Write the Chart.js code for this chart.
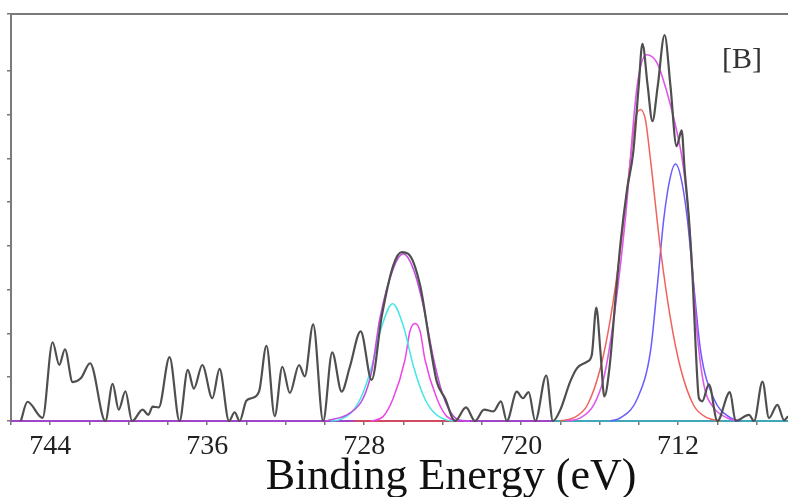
<!DOCTYPE html>
<html>
<head>
<meta charset="utf-8">
<script src="https://cdn.jsdelivr.net/npm/chart.js@4.4.1/dist/chart.umd.min.js"></script>
<style>
  html, body { margin: 0; padding: 0; background: #fff; }
  #wrap { width: 788px; height: 497px; }
</style>
</head>
<body>
<div id="wrap"><canvas id="xps" width="788" height="497"></canvas></div>
<script>
"use strict";

// ----------------------------
// Data (binding energy in eV, intensity in arb. units)
// ----------------------------
const measuredEv = [745.50, 745.16, 744.39, 743.88, 743.54, 743.25, 742.86, 742.43, 741.97, 741.19,
  740.82, 740.51, 740.17, 739.83, 739.29, 739.00, 738.78, 738.47, 737.92, 737.41,
  736.99, 736.68, 736.25, 735.74, 735.37, 734.89, 734.60, 734.35, 734.01, 733.75,
  733.36, 732.98, 732.56, 732.17, 731.79, 731.32, 731.03, 730.60, 730.09, 729.63,
  729.15, 728.73, 728.18, 727.62, 727.11, 726.52, 726.09, 725.75, 725.15, 724.64,
  724.30, 723.88, 723.37, 722.81, 722.35, 721.89, 721.41, 721.03, 720.73, 720.22,
  719.91, 719.62, 719.28, 718.72, 718.38, 718.00, 717.50, 717.15, 716.65, 716.40,
  716.17, 715.96, 715.76, 715.50, 715.19, 714.94, 714.60, 714.29, 714.01, 713.82,
  713.55, 713.31, 713.04, 712.69, 712.39, 712.08, 711.82, 711.67, 711.45, 711.26,
  711.11, 710.94, 710.77, 710.43, 710.00, 709.36, 709.07, 708.39, 708.13, 707.70,
  707.37, 706.94, 706.60, 706.40];
const measuredCounts = [0, 44, 7, 180, 128, 164, 89, 98, 132, 0,
  85, 26, 68, 0, 26, 14, 33, 31, 146, 0,
  117, 74, 128, 52, 119, 0, 20, 0, 46, 52,
  67, 172, 11, 124, 64, 128, 102, 221, 0, 157,
  67, 124, 205, 94, 238, 355, 386, 382, 310, 173,
  90, 52, 0, 31, 0, 26, 22, 45, 0, 67,
  52, 66, 0, 104, 0, 26, 90, 121, 135, 151,
  259, 159, 56, 121, 280, 405, 530, 613, 765, 862,
  765, 685, 765, 882, 765, 628, 664, 575, 462, 325,
  173, 52, 45, 84, 0, 66, 0, 14, 0, 90,
  7, 37, 2, 11];

// Fe 2p3/2 components
const redEv = [718.01, 717.34, 716.63, 715.96, 715.45, 714.94, 714.43, 714.18, 713.92,
  713.67, 713.41, 712.90, 712.39, 711.88, 711.21, 710.50, 709.83];
const redCounts = [0, 7, 36, 121, 234, 393, 598, 689, 712, 689, 598, 393, 234, 121, 36, 7, 0];

const blueEv = [715.45, 714.94, 714.07, 713.41, 713.06, 712.73, 712.39, 712.13,
  711.87, 711.53, 711.20, 710.85, 710.19, 709.32, 708.81];
const blueCounts = [0, 7, 52, 159, 309, 462, 559, 587, 559, 462, 309, 159, 52, 7, 0];

const envMainEv = [717.66, 716.98, 716.30, 715.79, 715.28, 714.69, 714.09, 713.61, 713.07,
  712.56, 712.13, 711.79, 711.54, 711.45, 711.02, 710.69, 710.18, 709.49, 708.98];
const envMainCounts = [0, 7, 37, 98, 234, 462, 765, 837, 818, 750, 674, 598, 507, 462, 196, 83, 30, 7, 0];

// Fe 2p1/2 components
const cyanEv = [729.72, 729.31, 728.62, 728.11, 727.60, 727.09, 726.55, 726.01, 725.50,
  724.99, 724.48, 723.79, 723.38];
const cyanCounts = [0, 2, 21, 59, 127, 218, 268, 218, 127, 59, 21, 2, 0];

const pinkEv = [727.66, 727.04, 726.52, 725.92, 725.67, 725.41, 725.15, 724.90, 724.30, 723.78, 723.16];
const pinkCounts = [0, 10, 52, 140, 205, 223, 205, 140, 52, 10, 0];

const envSatEv = [729.92, 728.73, 728.05, 727.62, 727.20, 726.52, 726.01, 725.50, 724.99,
  724.47, 724.05, 723.62, 723.20, 722.60];
const envSatCounts = [0, 18, 52, 113, 234, 348, 382, 348, 264, 143, 68, 22, 3, 0];

// Background lines
const purpleBaseEv = [746.0, 706.4];
const redBaseEv = [728.5, 723.2];
const tealBaseEv = [718.4, 706.4];

const xTicks = [744, 736, 728, 720, 712];
const xTitle = "Binding Energy (eV)";

function pts(xs, ys) {
  return xs.map((x, i) => ({ x: x, y: ys ? ys[i] : 0 }));
}

// frame line along the top, panel label and axis title
const framePlugin = {
  id: "frame",
  afterDatasetsDraw(chart) {
    const { ctx, chartArea } = chart;
    ctx.save();
    ctx.strokeStyle = "#7a7a7a";
    ctx.lineWidth = 2;
    ctx.beginPath();
    ctx.moveTo(chartArea.left - 1, chartArea.top);
    ctx.lineTo(chartArea.right, chartArea.top);
    ctx.stroke();

    ctx.fillStyle = "#333";
    ctx.font = "30px 'Liberation Serif'";
    ctx.textBaseline = "alphabetic";
    ctx.textAlign = "left";
    ctx.fillText("[B]", 722, 68);

    ctx.fillStyle = "#111";
    ctx.font = "44px 'Liberation Serif'";
    ctx.textAlign = "center";
    ctx.fillText(xTitle, 451, 489);
    ctx.restore();
  }
};

function line(label, data, color, width, order) {
  return {
    label: label,
    data: data,
    borderColor: color,
    borderWidth: width,
    pointRadius: 0,
    fill: false,
    cubicInterpolationMode: "monotone",
    clip: false,
    order: order
  };
}

const ctx = document.getElementById("xps").getContext("2d");
new Chart(ctx, {
  type: "line",
  data: {
    datasets: [
      line("Measured", pts(measuredEv, measuredCounts), "#4f4f4f", 2.2, 0),
      line("Envelope 2p3/2", pts(envMainEv, envMainCounts), "#df58ec", 1.6, 1),
      line("Peak 1", pts(redEv, redCounts), "#f0625c", 1.5, 2),
      line("Peak 2", pts(blueEv, blueCounts), "#6a5cff", 1.5, 2),
      line("Envelope 2p1/2", pts(envSatEv, envSatCounts), "#c44ce2", 1.6, 1),
      line("Peak 3", pts(cyanEv, cyanCounts), "#45e6e6", 1.5, 2),
      line("Peak 4", pts(pinkEv, pinkCounts), "#ee46e6", 1.5, 2),
      line("Base 1", pts(purpleBaseEv), "#a045c8", 2, 5),
      line("Base 2", pts(redBaseEv), "#d04a60", 2, 4),
      line("Base 3", pts(tealBaseEv), "#40a8b8", 2, 4)
    ]
  },
  options: {
    responsive: false,
    animation: false,
    devicePixelRatio: 1,
    layout: { padding: { left: 7, right: 0, top: 14, bottom: 28 } },
    plugins: { legend: { display: false }, tooltip: { enabled: false } },
    scales: {
      x: {
        type: "linear",
        reverse: true,
        min: 706.4,
        max: 746,
        afterBuildTicks: axis => {
          const t = [];
          for (let v = 708; v <= 746; v += 2) t.push({ value: v });
          axis.ticks = t;
        },
        ticks: {
          callback: v => (xTicks.includes(v) ? String(v) : ""),
          autoSkip: false,
          maxRotation: 0,
          padding: 8,
          color: "#222",
          font: { family: "'Liberation Serif'", size: 28, lineHeight: 1 }
        },
        grid: { drawOnChartArea: false, drawTicks: true, tickLength: 4, color: "#777", lineWidth: 1.5 },
        border: { display: true, color: "#8a4cc0", width: 2 }
      },
      y: {
        min: 0,
        max: 930,
        ticks: { display: false, stepSize: 100 },
        grid: { drawOnChartArea: false, drawTicks: true, tickLength: 4, color: "#777", lineWidth: 1.5 },
        border: { display: true, color: "#7a7a7a", width: 2 }
      }
    }
  },
  plugins: [framePlugin]
});
</script>
</body>
</html>
